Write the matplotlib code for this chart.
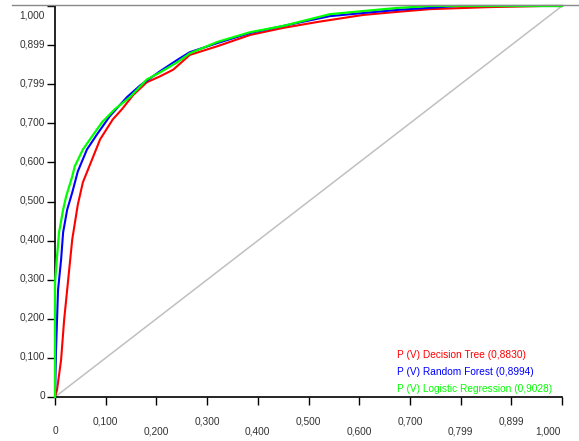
import matplotlib
matplotlib.use("Agg")
import matplotlib.pyplot as plt
from matplotlib.lines import Line2D

# ---- data ----
fpr_dt = [0, 0.004, 0.012, 0.018, 0.026, 0.034, 0.045, 0.055, 0.089, 0.114, 0.132,
          0.154, 0.181, 0.207, 0.233, 0.266, 0.320, 0.385, 0.450, 0.517, 0.607,
          0.675, 0.740, 0.852, 0.963, 1.0]
tpr_dt = [0, 0.018, 0.095, 0.197, 0.300, 0.403, 0.492, 0.549, 0.659, 0.710, 0.736,
          0.772, 0.805, 0.820, 0.837, 0.875, 0.897, 0.926, 0.944, 0.959, 0.977,
          0.985, 0.992, 0.997, 1.0, 1.0]

fpr_rf = [0, 0.002, 0.004, 0.006, 0.012, 0.016, 0.024, 0.034, 0.045, 0.063, 0.083,
          0.108, 0.142, 0.168, 0.207, 0.241, 0.266, 0.320, 0.385, 0.450, 0.542,
          0.607, 0.675, 0.793, 1.0]
tpr_rf = [0, 0.120, 0.197, 0.274, 0.351, 0.421, 0.479, 0.523, 0.577, 0.633, 0.672,
          0.718, 0.767, 0.797, 0.833, 0.862, 0.882, 0.905, 0.931, 0.949, 0.974,
          0.982, 0.990, 1.0, 1.0]

fpr_lr = [0, 0, 0.004, 0.008, 0.016, 0.022, 0.034, 0.039, 0.055, 0.069, 0.093,
          0.118, 0.148, 0.181, 0.207, 0.241, 0.266, 0.320, 0.385, 0.450, 0.542,
          0.607, 0.675, 0.740, 1.0]
tpr_lr = [0, 0.292, 0.359, 0.421, 0.479, 0.513, 0.564, 0.590, 0.633, 0.659, 0.703,
          0.736, 0.767, 0.812, 0.830, 0.856, 0.879, 0.908, 0.933, 0.949, 0.979,
          0.987, 0.995, 1.0, 1.0]

series_labels = ["P (V) Decision Tree (0,8830)",
                 "P (V) Random Forest (0,8994)",
                 "P (V) Logistic Regression (0,9028)"]

tick_values = [0, 0.1, 0.2, 0.3, 0.4, 0.5, 0.6, 0.7, 0.8, 0.9, 1.0]
tick_labels = ["0", "0,100", "0,200", "0,300", "0,400", "0,500",
               "0,600", "0,700", "0,799", "0,899", "1,000"]

# ---- figure ----
W, H = 579, 441
fig = plt.figure(figsize=(W / 100, H / 100), dpi=100)
ax = fig.add_axes([55 / W, 1 - 397 / H, 507 / W, 391 / H])
ax.set_xlim(0, 1)
ax.set_ylim(0, 1)
ax.patch.set_visible(False)

font = dict(family="Liberation Sans", size=7.3)
tick_color = "#333333"

ax.plot([0, 1], [0, 1], color="#c0c0c0", lw=1.1, clip_on=False, zorder=1)
ax.plot(fpr_dt, tpr_dt, color="#ff0000", lw=1.5, clip_on=False, zorder=2)
ax.plot(fpr_rf, tpr_rf, color="#0000ff", lw=1.5, clip_on=False, zorder=3)
ax.plot(fpr_lr, tpr_lr, color="#00ff00", lw=1.6, clip_on=False, zorder=4)

for s in ["top", "right"]:
    ax.spines[s].set_visible(False)
for s in ["left", "bottom"]:
    ax.spines[s].set_color("#000000")
    ax.spines[s].set_linewidth(1.2)

ax.set_xticks(tick_values)
ax.set_yticks(tick_values)
ax.set_xticklabels([])
ax.set_yticklabels([])
ax.tick_params(axis="both", direction="out", length=5.5, width=1.0, color="#000000")

# x tick labels in two alternating rows
for i, (v, lab) in enumerate(zip(tick_values, tick_labels)):
    dy = -24 if i % 2 == 1 else -34
    dx = -14 if i == len(tick_values) - 1 else 0
    ax.annotate(lab, xy=(v, 0), xycoords=ax.get_xaxis_transform(),
                xytext=(dx, dy), textcoords="offset pixels",
                ha="center", va="center", color=tick_color, **font)

# y tick labels
for i, (v, lab) in enumerate(zip(tick_values, tick_labels)):
    dy = -10 if i == len(tick_values) - 1 else 1
    ax.annotate(lab, xy=(0, v), xycoords=ax.get_yaxis_transform(),
                xytext=(-10, dy), textcoords="offset pixels",
                ha="right", va="center", color=tick_color, **font)

# series labels (legend text)
label_colors = ["#ff0000", "#0000ff", "#00ff00"]
for k, (lab, c) in enumerate(zip(series_labels, label_colors)):
    fig.text(397 / W, 1 - (355 + 17 * k) / H, lab, color=c,
             ha="left", va="center", **font)

# top gray border line
fig.add_artist(Line2D([12 / W, 1], [1 - 5 / H, 1 - 5 / H],
                      transform=fig.transFigure, color="#888888", lw=1.0))

fig.savefig("out.png", dpi=100)
